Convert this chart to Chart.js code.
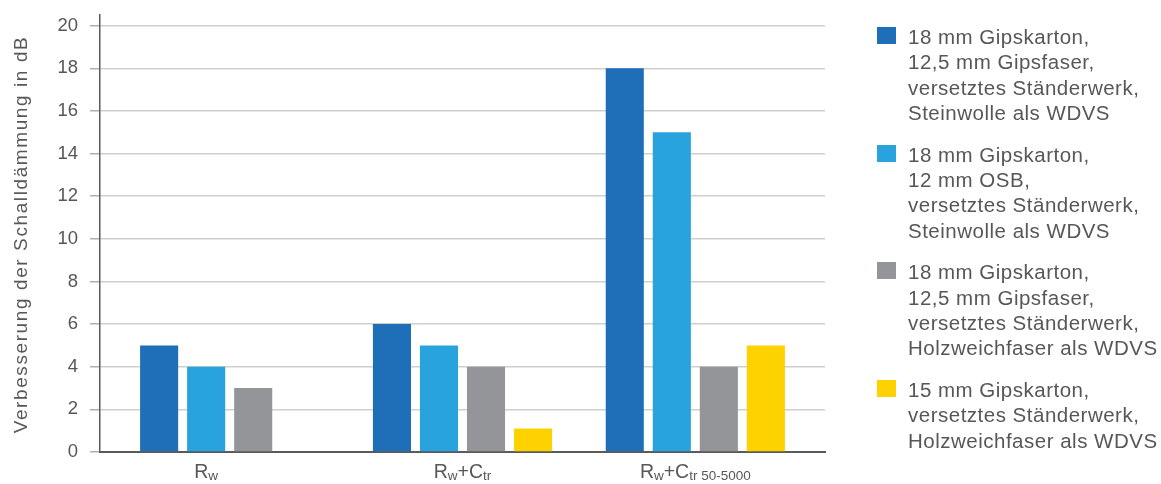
<!DOCTYPE html>
<html lang="de">
<head>
<meta charset="utf-8">
<title>Verbesserung der Schalldämmung</title>
<script src="https://cdn.jsdelivr.net/npm/chart.js@4.4.1/dist/chart.umd.min.js"></script>
<style>
  html, body { margin: 0; padding: 0; background: #fff; }
  #wrap { position: relative; width: 1161px; height: 484px; }
  #chart { position: absolute; left: 0; top: 0; }
  #legend { position: absolute; left: 877px; top: 24px; font-family: "Liberation Sans", Arial, sans-serif;
            font-size: 20.5px; line-height: 25.3px; letter-spacing: 0.5px; color: #575757; }
  .item { position: relative; padding-left: 31px; margin-bottom: 16.5px; white-space: nowrap; }
  .sw { position: absolute; left: 0; top: 3px; width: 19px; height: 17px; }
</style>
</head>
<body>
<div id="wrap">
  <canvas id="chart" width="1161" height="484"></canvas>
  <div id="legend"></div>
</div>
<script>
// Categories (R_w variants); each label split into normal/subscript parts
const categories = ['Rw', 'Rw+Ctr', 'Rw+Ctr 50-5000'];
const categoryParts = [
  [['R', false], ['w', true]],
  [['R', false], ['w', true], ['+C', false], ['tr', true]],
  [['R', false], ['w', true], ['+C', false], ['tr 50-5000', true]]
];

// Series labels (one entry per legend line)
const labelsA = ['18 mm Gipskarton,', '12,5 mm Gipsfaser,', 'versetztes Ständerwerk,', 'Steinwolle als WDVS'];
const labelsB = ['18 mm Gipskarton,', '12 mm OSB,', 'versetztes Ständerwerk,', 'Steinwolle als WDVS'];
const labelsC = ['18 mm Gipskarton,', '12,5 mm Gipsfaser,', 'versetztes Ständerwerk,', 'Holzweichfaser als WDVS'];
const labelsD = ['15 mm Gipskarton,', 'versetztes Ständerwerk,', 'Holzweichfaser als WDVS'];

// Improvement in dB per category
const valuesA = [5, 6, 18];
const valuesB = [4, 5, 15];
const valuesC = [3, 4, 4];
const valuesD = [null, 1.1, 5];

// Y axis ticks
const yTicks = { min: 0, max: 20, step: 2 };
const yAxisTitle = 'Verbesserung der Schalldämmung in dB';

const colors = ['#1f6fb8', '#29a3dd', '#939598', '#fdd200'];
const FONT = '"Liberation Sans", Arial, sans-serif';
const TEXT = '#575757';

const datasets = [
  { label: labelsA, data: valuesA },
  { label: labelsB, data: valuesB },
  { label: labelsC, data: valuesC },
  { label: labelsD, data: valuesD }
].map((d, i) => ({
  label: d.label.join(' '),
  lines: d.label,
  data: d.data.map((v, k) => ({ x: k, y: v })),
  backgroundColor: colors[i],
  borderWidth: 0,
  barPercentage: 0.81,
  categoryPercentage: 0.808
}));

// Category labels with subscripts, centred under the bars drawn for each category
const richXLabels = {
  id: 'richXLabels',
  afterDraw(chart) {
    const ctx = chart.ctx;
    const y = 478;
    ctx.save();
    ctx.fillStyle = TEXT;
    ctx.textBaseline = 'alphabetic';
    categoryParts.forEach((parts, i) => {
      let lo = Infinity, hi = -Infinity;
      chart.data.datasets.forEach((ds, di) => {
        if (ds.data[i].y == null) return;
        const bar = chart.getDatasetMeta(di).data[i];
        lo = Math.min(lo, bar.x - bar.width / 2);
        hi = Math.max(hi, bar.x + bar.width / 2);
      });
      const fontFor = sub => (sub ? '13.5px ' : '19.5px ') + FONT;
      let total = 0;
      parts.forEach(([t, sub]) => { ctx.font = fontFor(sub); total += ctx.measureText(t).width; });
      let x = (lo + hi) / 2 - total / 2;
      parts.forEach(([t, sub]) => {
        ctx.font = fontFor(sub);
        ctx.fillText(t, x, sub ? y + 2 : y);
        x += ctx.measureText(t).width;
      });
    });
    ctx.restore();
  }
};

// Rotated y axis title with slightly open tracking
const yTitle = {
  id: 'yTitle',
  afterDraw(chart) {
    const ctx = chart.ctx;
    const a = chart.chartArea;
    ctx.save();
    ctx.translate(22, (a.top + a.bottom) / 2 + 1);
    ctx.rotate(-Math.PI / 2);
    ctx.font = '19px ' + FONT;
    ctx.letterSpacing = '1.6px';
    ctx.fillStyle = TEXT;
    ctx.textAlign = 'center';
    ctx.textBaseline = 'middle';
    ctx.fillText(yAxisTitle, 0, 0);
    ctx.restore();
  }
};

new Chart(document.getElementById('chart'), {
  type: 'bar',
  data: { datasets },
  options: {
    responsive: false,
    animation: false,
    layout: { padding: { top: 15, right: 336, bottom: 0, left: 0 } },
    plugins: { legend: { display: false }, tooltip: { enabled: false } },
    scales: {
      x: {
        type: 'linear',
        offset: false,
        bounds: 'data',
        min: -0.557,
        max: categories.length - 1 + 0.557,
        grid: { display: false },
        border: { display: true, color: '#5a5a5a', width: 2 },
        ticks: { display: false },
        afterBuildTicks(s) { s.ticks = categories.map((c, i) => ({ value: i })); },
        afterFit(s) { s.height = 32; }
      },
      y: {
        min: yTicks.min,
        max: yTicks.max + 0.5,
        ticks: { stepSize: yTicks.step, color: TEXT, font: { family: FONT, size: 18.5 }, padding: 12 },
        afterBuildTicks(s) {
          s.ticks = [];
          for (let v = yTicks.min; v <= yTicks.max; v += yTicks.step) s.ticks.push({ value: v });
        },
        grid: { color: '#cfcfcf', lineWidth: 1.5, tickColor: '#b0b0b0', tickLength: 10, drawTicks: true },
        border: { display: true, color: '#5a5a5a', width: 1.5 },
        afterFit(s) { s.width = 100; s.paddingTop = 0; s.paddingBottom = 0; }
      }
    }
  },
  plugins: [richXLabels, yTitle]
});

// Legend with multi-line entries
const legend = document.getElementById('legend');
datasets.forEach(d => {
  const item = document.createElement('div');
  item.className = 'item';
  const sw = document.createElement('span');
  sw.className = 'sw';
  sw.style.background = d.backgroundColor;
  item.appendChild(sw);
  d.lines.forEach(line => {
    const div = document.createElement('div');
    div.textContent = line;
    item.appendChild(div);
  });
  legend.appendChild(item);
});
</script>
</body>
</html>
